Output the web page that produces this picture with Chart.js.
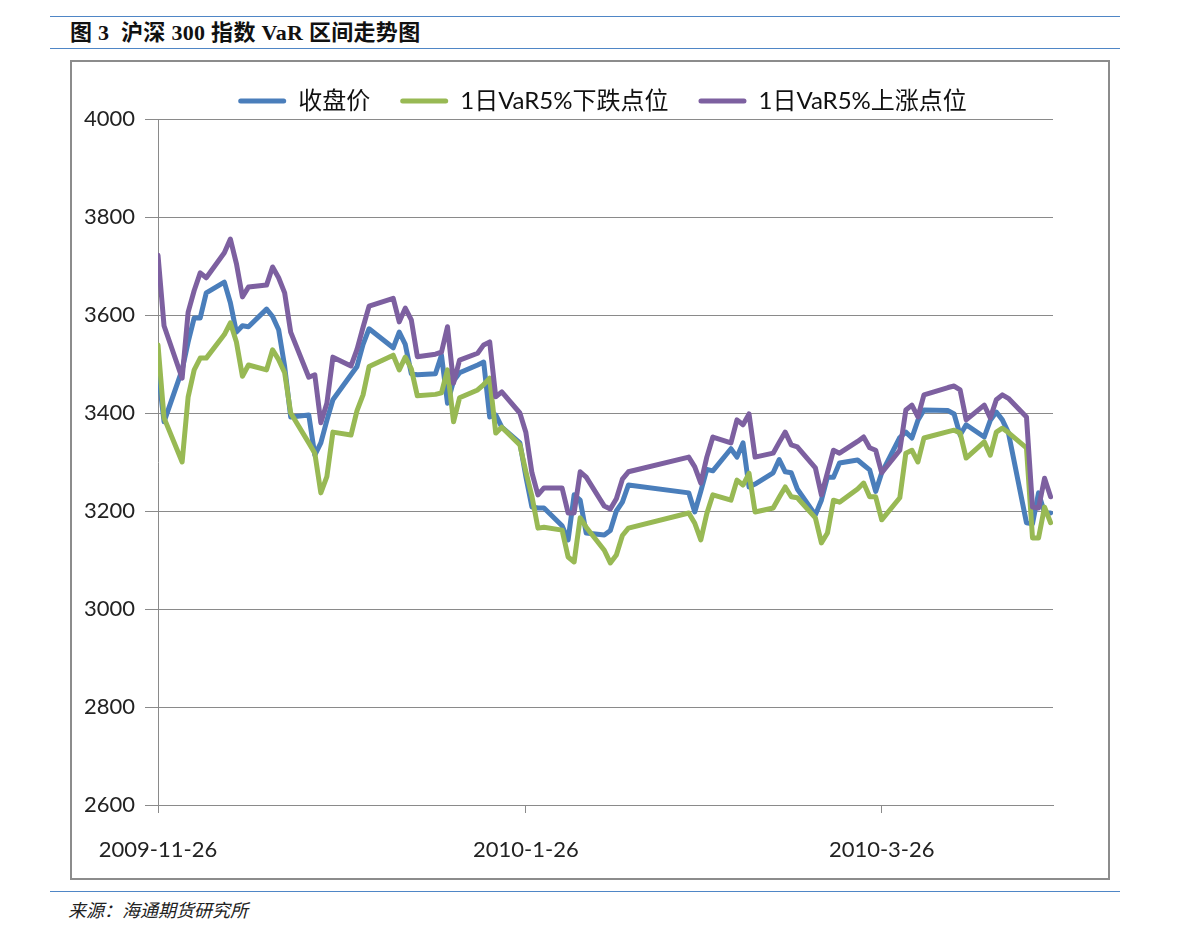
<!DOCTYPE html>
<html>
<head>
<meta charset="utf-8">
<script src="https://cdn.jsdelivr.net/npm/chart.js@4.4.1/dist/chart.umd.min.js"></script>
<style>
  body { margin: 0; background: #fff; width: 1191px; height: 939px; position: relative; overflow: hidden; }
  .rule { position: absolute; left: 50px; width: 1070px; height: 0; border-top: 1.5px solid #4f86c6; }
  #title { position: absolute; left: 70px; top: 19px; font: bold 22px "Liberation Serif", "Noto Sans CJK SC", serif; color: #111; line-height: 28px; white-space: nowrap; letter-spacing: 0.3px; }
  #frame { position: absolute; left: 70px; top: 60px; width: 1036px; height: 816px; border: 2px solid #8c8c8c; }
  #chartBox { position: absolute; left: 0; top: 0; width: 1036px; height: 816px; }
  #source { position: absolute; left: 68px; top: 896px; font: italic 18px "Noto Sans CJK SC", sans-serif; color: #222; white-space: nowrap; }
</style>
</head>
<body>
<div class="rule" style="top:16px"></div>
<div id="title">图 3&nbsp; 沪深 300 指数 VaR 区间走势图</div>
<div class="rule" style="top:48px"></div>
<div id="frame"><div id="chartBox"><canvas id="varChart"></canvas></div></div>
<div class="rule" style="top:891px"></div>
<div id="source">来源：海通期货研究所</div>

<script>
// trading dates as plotted
const dates = [
    '2009-11-26', '2009-11-27', '2009-11-30', '2009-12-1', '2009-12-2', '2009-12-3', '2009-12-4',
    '2009-12-7', '2009-12-8', '2009-12-9', '2009-12-10', '2009-12-11',
    '2009-12-14', '2009-12-15', '2009-12-16', '2009-12-17', '2009-12-18',
    '2009-12-21', '2009-12-22', '2009-12-23', '2009-12-24', '2009-12-25',
    '2009-12-28', '2009-12-29', '2009-12-30', '2009-12-31',
    '2010-1-4', '2010-1-5', '2010-1-6', '2010-1-7', '2010-1-8',
    '2010-1-11', '2010-1-12', '2010-1-13', '2010-1-14', '2010-1-15',
    '2010-1-18', '2010-1-19', '2010-1-20', '2010-1-21', '2010-1-22',
    '2010-1-25', '2010-1-26', '2010-1-27', '2010-1-28', '2010-1-29',
    '2010-2-1', '2010-2-2', '2010-2-3', '2010-2-4', '2010-2-5',
    '2010-2-8', '2010-2-9', '2010-2-10', '2010-2-11', '2010-2-12',
    '2010-2-22', '2010-2-23', '2010-2-24', '2010-2-25', '2010-2-26',
    '2010-3-1', '2010-3-2', '2010-3-3', '2010-3-4', '2010-3-5',
    '2010-3-8', '2010-3-9', '2010-3-10', '2010-3-11', '2010-3-12',
    '2010-3-15', '2010-3-16', '2010-3-17', '2010-3-18', '2010-3-19',
    '2010-3-22', '2010-3-23', '2010-3-24', '2010-3-25', '2010-3-26',
    '2010-3-29', '2010-3-30', '2010-3-31', '2010-4-1', '2010-4-2',
    '2010-4-6', '2010-4-7', '2010-4-8', '2010-4-9',
    '2010-4-12', '2010-4-13', '2010-4-14', '2010-4-15', '2010-4-16',
    '2010-4-19', '2010-4-20', '2010-4-21', '2010-4-22', '2010-4-23'
];

const closePrice = [
    3488, 3382, 3488, 3545, 3594, 3594, 3645,
    3667, 3625, 3565, 3578, 3576,
    3612, 3597, 3570, 3495, 3392,
    3396, 3314, 3339, 3385, 3427,
    3478, 3495, 3540, 3572,
    3533, 3565, 3540, 3480, 3478,
    3480, 3518, 3420, 3465, 3482,
    3498, 3504, 3392, 3396, 3371,
    3339, 3270, 3208, 3206, 3206,
    3170, 3141, 3233, 3222, 3155,
    3151, 3160, 3200, 3218, 3253,
    3237, 3198, 3240, 3285, 3282,
    3327, 3310, 3339, 3249, 3255,
    3278, 3305, 3280, 3278, 3245,
    3192, 3222, 3269, 3269, 3298,
    3304, 3294, 3284, 3240, 3278,
    3350, 3361, 3349, 3385, 3406,
    3405, 3398, 3355, 3376,
    3351, 3385, 3402, 3386, 3360,
    3176, 3174, 3237, 3196, 3196
];

const varDown = [
    3539, 3390, 3300, 3433, 3488, 3512, 3512,
    3560, 3584, 3545, 3475, 3498,
    3488, 3529, 3509, 3482, 3400,
    3339, 3318, 3237, 3270, 3361,
    3355, 3405, 3437, 3495,
    3518, 3488, 3514, 3490, 3435,
    3438, 3441, 3488, 3382, 3431,
    3447, 3458, 3471, 3359, 3371,
    3335, 3280, 3230, 3165, 3167,
    3161, 3106, 3096, 3186, 3167,
    3120, 3094, 3110, 3150, 3165,
    3196, 3175, 3141, 3195, 3233,
    3222, 3263, 3253, 3277, 3198,
    3206, 3228, 3249, 3229, 3227,
    3186, 3135, 3155, 3222, 3218,
    3245, 3257, 3229, 3229, 3182,
    3227, 3318, 3324, 3300, 3349,
    3362, 3365, 3359, 3308,
    3341, 3314, 3361, 3369, 3360,
    3329, 3145, 3145, 3208, 3176
];

const varUp = [
    3722, 3578, 3471, 3606, 3650, 3686, 3676,
    3727, 3755, 3705, 3637, 3657,
    3661, 3698, 3676, 3645, 3565,
    3473, 3478, 3380, 3420, 3514,
    3496, 3530, 3575, 3618,
    3634, 3586, 3614, 3590, 3515,
    3520, 3524, 3576, 3461, 3508,
    3522, 3539, 3545, 3433, 3443,
    3400, 3360, 3278, 3233, 3247,
    3247, 3196, 3196, 3280, 3269,
    3210, 3204, 3225, 3265, 3280,
    3310, 3290, 3257, 3310, 3351,
    3339, 3386, 3376, 3398, 3310,
    3318, 3340, 3361, 3335, 3331,
    3288, 3233, 3278, 3324, 3318,
    3342, 3351, 3329, 3324, 3278,
    3324, 3406, 3416, 3392, 3437,
    3452, 3455, 3447, 3386,
    3416, 3390, 3427, 3437, 3430,
    3392, 3208, 3206, 3267, 3229
];

const seriesNames = ['收盘价', '1日VaR5%下跌点位', '1日VaR5%上涨点位'];
const seriesColors = ['#4a7ebb', '#98b954', '#7d60a0'];
const xTickLabels = ['2009-11-26', '2010-1-26', '2010-3-26'];

const startTime = Date.UTC(2009, 10, 26);
function dayOf(s) {
    const [y, m, d] = s.split('-').map(Number);
    return (Date.UTC(y, m - 1, d) - startTime) / 86400000;
}

function toPoints(values) {
    return dates.map((d, i) => ({ x: dayOf(d), y: values[i] }));
}

const tickLabelByDay = {};
xTickLabels.forEach(l => { tickLabelByDay[dayOf(l)] = l; });

// keep the legend band at the reference height and centre it on the frame
const legendPlacement = {
    id: 'legendPlacement',
    beforeLayout(chart) {
        const legend = chart.legend;
        if (legend && !legend._wrapped) {
            const fit = legend.fit;
            legend.fit = function () { fit.call(this); this.height = 60; };
            legend._wrapped = true;
        }
    },
    afterLayout(chart) {
        const legend = chart.legend;
        if (legend) {
            legend.left += 40;
            legend.right += 40;
        }
    }
};

const axisFont = { family: 'Lato, "Noto Sans CJK SC", sans-serif', size: 22 };
const gridColor = '#8a8a8a';

new Chart(document.getElementById('varChart'), {
    type: 'line',
    data: {
        datasets: [closePrice, varDown, varUp].map((values, i) => ({
            label: seriesNames[i],
            data: toPoints(values),
            borderColor: seriesColors[i],
            backgroundColor: seriesColors[i],
            borderWidth: 5,
            pointRadius: 0,
            tension: 0,
            borderJoinStyle: 'round',
            borderCapStyle: 'round',
            order: 3 - i
        }))
    },
    options: {
        responsive: true,
        maintainAspectRatio: false,
        animation: false,
        layout: { padding: { top: -3, right: 55, bottom: 0, left: 0 } },
        plugins: {
            tooltip: { enabled: false },
            legend: {
                position: 'top',
                labels: {
                    font: { family: 'Lato, "Noto Sans CJK SC", sans-serif', size: 24 },
                    color: '#111',
                    boxWidth: 48,
                    boxHeight: 5,
                    padding: 30,
                    sort: (a, b) => a.datasetIndex - b.datasetIndex,
                    generateLabels(chart) {
                        const items = Chart.defaults.plugins.legend.labels.generateLabels(chart);
                        items.forEach(it => {
                            it.fillStyle = it.strokeStyle;
                            it.lineWidth = 0;
                            it.borderRadius = 2.5;
                        });
                        return items;
                    }
                }
            }
        },
        scales: {
            x: {
                type: 'linear',
                position: 'bottom',
                min: 0,
                max: 148.4,
                afterBuildTicks: axis => { axis.ticks = xTickLabels.map(l => ({ value: dayOf(l) })); },
                afterFit: axis => { axis.height = 73; },
                ticks: {
                    callback: v => tickLabelByDay[v] || '',
                    font: axisFont,
                    color: '#222',
                    padding: 24,
                    maxRotation: 0,
                    autoSkip: false
                },
                grid: { drawOnChartArea: false, drawTicks: true, tickLength: 8, color: gridColor },
                border: { color: gridColor }
            },
            y: {
                min: 2600,
                max: 4000,
                afterFit: axis => { axis.width = 86; },
                ticks: { stepSize: 200, font: axisFont, color: '#222', padding: 10, callback: v => String(v) },
                grid: { color: gridColor, tickLength: 13 },
                border: { color: gridColor }
            }
        }
    },
    plugins: [legendPlacement]
});
</script>
</body>
</html>
